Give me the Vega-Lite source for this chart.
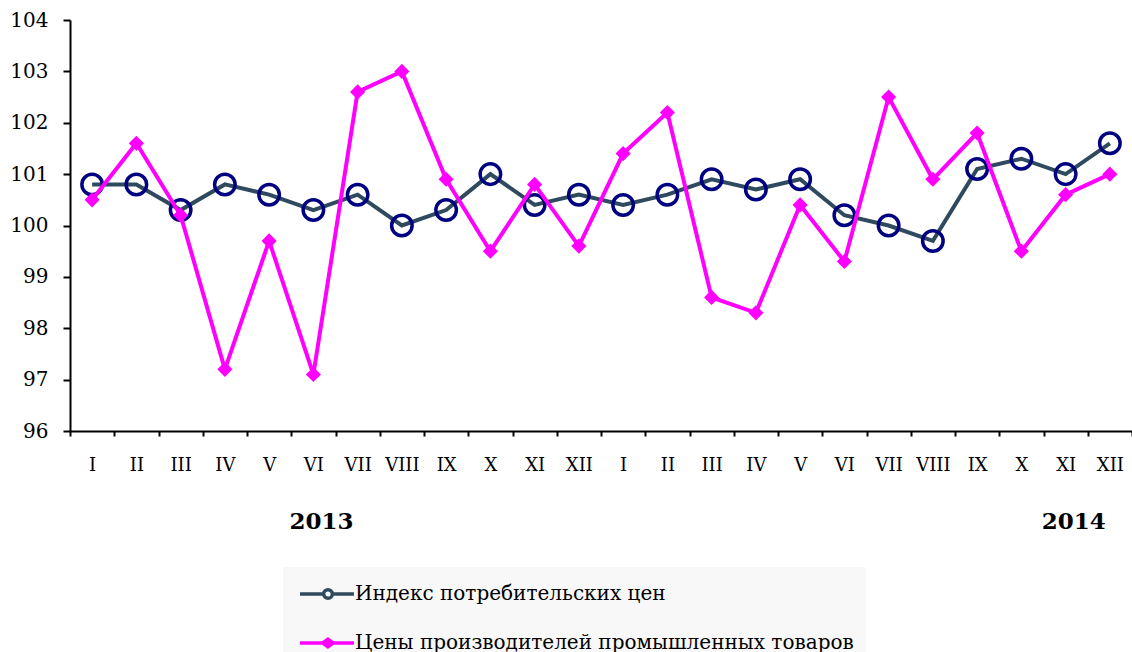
{
  "$schema": "https://vega.github.io/schema/vega-lite/v6.json",
  "autosize": "none",
  "width": 1062,
  "height": 411,
  "padding": {"left": 70, "top": 20, "right": 0, "bottom": 221},
  "background": "white",
  "config": {
    "view": {"stroke": null},
    "axis": {"grid": false, "domainColor": "black", "tickColor": "black", "labelColor": "black", "labelFont": "DejaVu Serif", "domainWidth": 2, "tickWidth": 2},
    "legend": {"labelFont": "DejaVu Serif", "labelColor": "black"}
  },
  "data": {"values": [
    {"key": "I 2013", "s": "Индекс потребительских цен", "v": 100.8},
    {"key": "II 2013", "s": "Индекс потребительских цен", "v": 100.8},
    {"key": "III 2013", "s": "Индекс потребительских цен", "v": 100.3},
    {"key": "IV 2013", "s": "Индекс потребительских цен", "v": 100.8},
    {"key": "V 2013", "s": "Индекс потребительских цен", "v": 100.6},
    {"key": "VI 2013", "s": "Индекс потребительских цен", "v": 100.3},
    {"key": "VII 2013", "s": "Индекс потребительских цен", "v": 100.6},
    {"key": "VIII 2013", "s": "Индекс потребительских цен", "v": 100.0},
    {"key": "IX 2013", "s": "Индекс потребительских цен", "v": 100.3},
    {"key": "X 2013", "s": "Индекс потребительских цен", "v": 101.0},
    {"key": "XI 2013", "s": "Индекс потребительских цен", "v": 100.4},
    {"key": "XII 2013", "s": "Индекс потребительских цен", "v": 100.6},
    {"key": "I 2014", "s": "Индекс потребительских цен", "v": 100.4},
    {"key": "II 2014", "s": "Индекс потребительских цен", "v": 100.6},
    {"key": "III 2014", "s": "Индекс потребительских цен", "v": 100.9},
    {"key": "IV 2014", "s": "Индекс потребительских цен", "v": 100.7},
    {"key": "V 2014", "s": "Индекс потребительских цен", "v": 100.9},
    {"key": "VI 2014", "s": "Индекс потребительских цен", "v": 100.2},
    {"key": "VII 2014", "s": "Индекс потребительских цен", "v": 100.0},
    {"key": "VIII 2014", "s": "Индекс потребительских цен", "v": 99.7},
    {"key": "IX 2014", "s": "Индекс потребительских цен", "v": 101.1},
    {"key": "X 2014", "s": "Индекс потребительских цен", "v": 101.3},
    {"key": "XI 2014", "s": "Индекс потребительских цен", "v": 101.0},
    {"key": "XII 2014", "s": "Индекс потребительских цен", "v": 101.6},
    {"key": "I 2013", "s": "Цены производителей промышленных товаров", "v": 100.5},
    {"key": "II 2013", "s": "Цены производителей промышленных товаров", "v": 101.6},
    {"key": "III 2013", "s": "Цены производителей промышленных товаров", "v": 100.2},
    {"key": "IV 2013", "s": "Цены производителей промышленных товаров", "v": 97.2},
    {"key": "V 2013", "s": "Цены производителей промышленных товаров", "v": 99.7},
    {"key": "VI 2013", "s": "Цены производителей промышленных товаров", "v": 97.1},
    {"key": "VII 2013", "s": "Цены производителей промышленных товаров", "v": 102.6},
    {"key": "VIII 2013", "s": "Цены производителей промышленных товаров", "v": 103.0},
    {"key": "IX 2013", "s": "Цены производителей промышленных товаров", "v": 100.9},
    {"key": "X 2013", "s": "Цены производителей промышленных товаров", "v": 99.5},
    {"key": "XI 2013", "s": "Цены производителей промышленных товаров", "v": 100.8},
    {"key": "XII 2013", "s": "Цены производителей промышленных товаров", "v": 99.6},
    {"key": "I 2014", "s": "Цены производителей промышленных товаров", "v": 101.4},
    {"key": "II 2014", "s": "Цены производителей промышленных товаров", "v": 102.2},
    {"key": "III 2014", "s": "Цены производителей промышленных товаров", "v": 98.6},
    {"key": "IV 2014", "s": "Цены производителей промышленных товаров", "v": 98.3},
    {"key": "V 2014", "s": "Цены производителей промышленных товаров", "v": 100.4},
    {"key": "VI 2014", "s": "Цены производителей промышленных товаров", "v": 99.3},
    {"key": "VII 2014", "s": "Цены производителей промышленных товаров", "v": 102.5},
    {"key": "VIII 2014", "s": "Цены производителей промышленных товаров", "v": 100.9},
    {"key": "IX 2014", "s": "Цены производителей промышленных товаров", "v": 101.8},
    {"key": "X 2014", "s": "Цены производителей промышленных товаров", "v": 99.5},
    {"key": "XI 2014", "s": "Цены производителей промышленных товаров", "v": 100.6},
    {"key": "XII 2014", "s": "Цены производителей промышленных товаров", "v": 101.0}
  ]},
  "encoding": {
    "x": {"field": "key", "type": "nominal", "sort": null,
      "scale": {"domain": ["I 2013","II 2013","III 2013","IV 2013","V 2013","VI 2013","VII 2013","VIII 2013","IX 2013","X 2013","XI 2013","XII 2013","I 2014","II 2014","III 2014","IV 2014","V 2014","VI 2014","VII 2014","VIII 2014","IX 2014","X 2014","XI 2014","XII 2014"], "paddingInner": 0, "paddingOuter": 0},
      "axis": null},
    "y": {"field": "v", "type": "quantitative",
      "scale": {"domain": [96, 104], "nice": false, "zero": false},
      "axis": {"title": null, "values": [96,97,98,99,100,101,102,103,104], "tickSize": 7, "labelPadding": 15, "labelFontSize": 20}}
  },
  "resolve": {"axis": {"x": "independent"}},
  "layer": [
    {
      "transform": [{"filter": "datum.s == 'Индекс потребительских цен'"}],
      "mark": {"type": "line", "color": "#2f4a5e", "strokeWidth": 4},
      "encoding": {
        "x": {"field": "key", "type": "nominal", "sort": null,
          "axis": {"title": null, "orient": "bottom", "labelAngle": 0, "tickBand": "extent", "tickSize": 5, "labelPadding": 20, "labelFontSize": 18, "labelExpr": "isString(datum.value) ? split(datum.value, ' ')[0] : ''"}}
      }
    },
    {
      "transform": [{"filter": "datum.s == 'Индекс потребительских цен'"}],
      "mark": {"type": "point", "shape": "circle", "filled": false, "stroke": "#000080", "strokeWidth": 3.5, "size": 420, "opacity": 1},
      "encoding": {
        "x": {"field": "key", "type": "nominal", "sort": null,
          "axis": {"title": null, "orient": "bottom", "labelAngle": 0, "values": ["VI 2013", "XI 2014"], "ticks": false, "domain": false, "labelPadding": 79, "labelOffset": 8, "labelFontSize": 23, "labelFontWeight": "bold", "labelExpr": "isString(datum.value) ? split(datum.value, ' ')[1] : ''"}}
      }
    },
    {
      "transform": [{"filter": "datum.s == 'Цены производителей промышленных товаров'"}],
      "mark": {"type": "line", "color": "#ff00ff", "strokeWidth": 4}
    },
    {
      "transform": [{"filter": "datum.s == 'Цены производителей промышленных товаров'"}],
      "mark": {"type": "point", "shape": "diamond", "filled": true, "color": "#ff00ff", "size": 230, "opacity": 1}
    },
    {
      "mark": {"type": "point", "filled": true, "opacity": 0, "strokeWidth": 3.5},
      "encoding": {
        "shape": {"field": "s", "type": "nominal", "scale": {"domain": ["Индекс потребительских цен", "Цены производителей промышленных товаров"], "range": ["M-0.77,0H1.05M1.72,0H3.38M1.05,0A0.335,0.335,0,1,0,1.72,0A0.335,0.335,0,1,0,1.05,0Z", "M-0.77,0H3.38M0.98,0L1.38,-0.3L1.78,0L1.38,0.3Z"]},
          "legend": {"title": null, "orient": "none", "legendX": 213, "legendY": 547, "direction": "vertical", "fillColor": "#f8f8f8", "padding": 12, "symbolSize": 676, "symbolStrokeWidth": 3.5, "symbolOpacity": 1, "labelFontSize": 20, "labelOffset": 30, "rowPadding": 22, "labelLimit": 800}},
        "fill": {"field": "s", "type": "nominal", "scale": {"domain": ["Индекс потребительских цен", "Цены производителей промышленных товаров"], "range": ["rgba(0,0,0,0)", "#ff00ff"]}},
        "stroke": {"field": "s", "type": "nominal", "scale": {"domain": ["Индекс потребительских цен", "Цены производителей промышленных товаров"], "range": ["#2f4a5e", "#ff00ff"]}}
      }
    }
  ]
}
